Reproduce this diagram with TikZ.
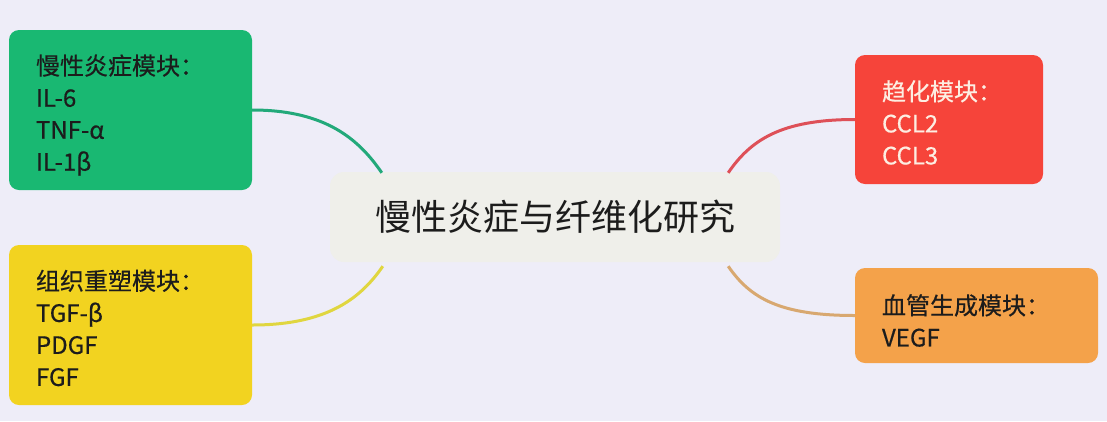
\documentclass[tikz,border=0pt]{standalone}
\usepackage{fontspec}
\setmainfont{Noto Sans CJK SC}
\newfontfamily\modfont[FakeBold=0.5]{Noto Sans CJK SC}
\definecolor{bg}{HTML}{EEEDF8}
\definecolor{cbox}{HTML}{EFEFEA}
\definecolor{gbox}{HTML}{19B872}
\definecolor{gline}{HTML}{22A97A}
\definecolor{ybox}{HTML}{F2D320}
\definecolor{yline}{HTML}{E0D640}
\definecolor{rbox}{HTML}{F6443A}
\definecolor{rline}{HTML}{DE5058}
\definecolor{obox}{HTML}{F4A24A}
\definecolor{oline}{HTML}{D8A870}
\definecolor{txt}{HTML}{1C1C1C}
\definecolor{ltxt}{HTML}{FDEEE2}
\begin{document}
\begin{tikzpicture}[x=1pt,y=-1pt,
  modbox/.style={rounded corners=10pt, inner sep=0pt},
  modtext/.style={inner sep=0pt, align=left, anchor=west,
     font=\modfont\fontsize{24}{32}\selectfont, text=txt},
  link/.style={line width=3pt}]
\fill[bg] (0,0) rectangle (1107,421);
\useasboundingbox (0,0) rectangle (1107,421);
\node[fill=cbox, rounded corners=14pt, minimum width=450pt, minimum height=90pt,
      font=\fontsize{36}{40}\selectfont, text=txt] (center) at (555,217) {慢性炎症与纤维化研究};
\node[modbox, fill=gbox, minimum width=243pt, minimum height=160pt] (green) at (130.5,110) {};
\node[modtext] (greent) at ([xshift=27pt,yshift=-5pt]green.west) {慢性炎症模块：\\IL-6\\TNF-α\\IL-1β};
\node[modbox, fill=ybox, minimum width=243pt, minimum height=160pt] (yellow) at (130.5,325) {};
\node[modtext] (yellowt) at ([xshift=27pt,yshift=-3pt]yellow.west) {组织重塑模块：\\TGF-β\\PDGF\\FGF};
\node[modbox, fill=rbox, minimum width=188pt, minimum height=129pt] (red) at (949,119.5) {};
\node[modtext, text=ltxt] (redt) at ([xshift=27pt,yshift=-3pt]red.west) {趋化模块：\\CCL2\\CCL3};
\node[modbox, fill=obox, minimum width=243pt, minimum height=95pt] (orange) at (976.5,315.5) {};
\node[modtext] (oranget) at ([xshift=27pt,yshift=-5pt]orange.west) {血管生成模块：\\VEGF};
\coordinate (gend) at ([xshift=52pt,yshift=-1pt]center.north west);
\coordinate (yend) at ([xshift=53pt,yshift=-4pt]center.south west);
\coordinate (rend) at ([xshift=-52pt,yshift=-1pt]center.north east);
\coordinate (oend) at ([xshift=-52pt,yshift=-4pt]center.south east);
\draw[link, gline] (green.east) .. controls +(75,0) and +(-22,-32) .. (gend);
\draw[link, yline] (yend) .. controls +(-22,32) and +(75,0) .. (yellow.east);
\draw[link, rline] (red.west) .. controls +(-75,0) and +(22,-32) .. (rend);
\draw[link, oline] (oend) .. controls +(22,32) and +(-75,0) .. (orange.west);
\end{tikzpicture}
\end{document}
